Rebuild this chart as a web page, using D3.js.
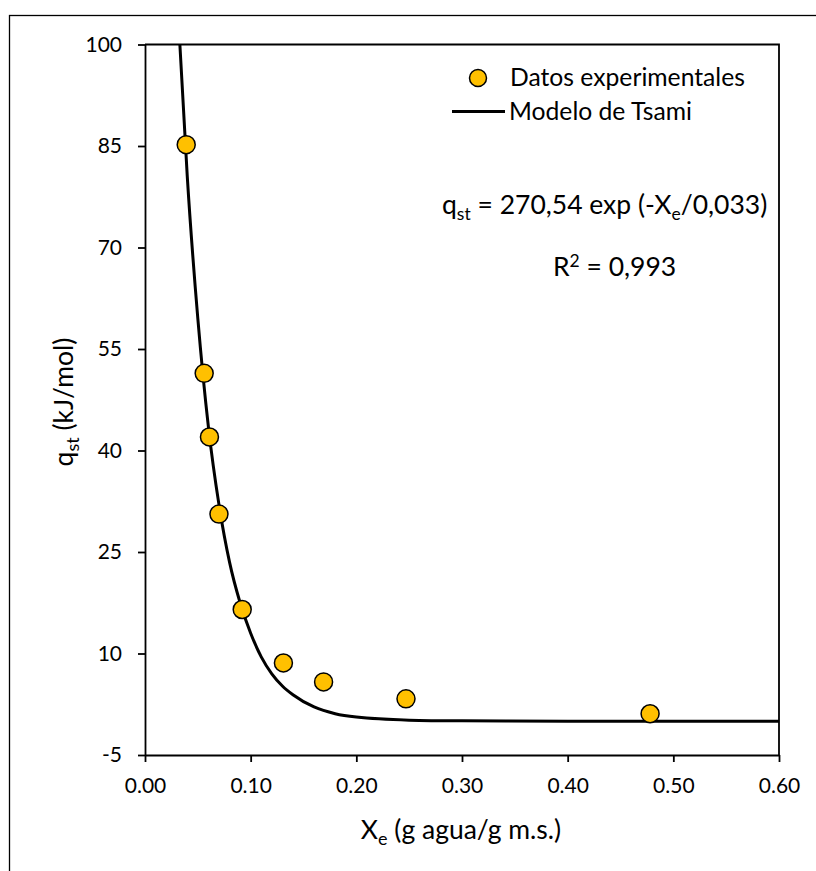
<!DOCTYPE html>
<html>
<head>
<meta charset="utf-8">
<script src="https://cdn.jsdelivr.net/npm/d3@7"></script>
<style>
  body { margin: 0; background: #fff; }
  text { font-family: Lato, "Open Sans", sans-serif; fill: #000; }
</style>
</head>
<body>
<div id="chart"></div>
<script>
// experimental points
let xeData = [0.039, 0.056, 0.061, 0.070, 0.092, 0.131, 0.169, 0.247, 0.478]
let qstData = [85.2, 51.4, 42.0, 30.6, 16.5, 8.6, 5.8, 3.3, 1.1]

// Tsami model curve
let modelX = [0.033, 0.04, 0.05, 0.06, 0.07, 0.08, 0.09, 0.10, 0.11, 0.12, 0.13, 0.14, 0.16, 0.18, 0.20, 0.25, 0.30, 0.40, 0.50, 0.60]
let modelY = [100, 80.5, 59.5, 43.5, 32.0, 23.5, 17.5, 13.0, 9.5, 7.0, 5.2, 3.9, 2.1, 1.1, 0.6, 0.15, 0.05, 0, 0, 0]

let xTicks = [0, 0.1, 0.2, 0.3, 0.4, 0.5, 0.6]
let yTicks = [-5, 10, 25, 40, 55, 70, 85, 100]

let W = 816, H = 871
let margin = {top: 44.5, right: 37, bottom: 116, left: 145}
let width = W - margin.left - margin.right,
    height = H - margin.top - margin.bottom

let svg = d3.select("#chart").append("svg")
    .attr("width", W)
    .attr("height", H)

// outer chart frame (cropped on right/bottom)
svg.append("rect")
    .attr("x", 9.5).attr("y", 15.5)
    .attr("width", 830).attr("height", 880)
    .attr("fill", "none").attr("stroke", "#000").attr("stroke-width", 1.3)

let g = svg.append("g")
    .attr("transform", "translate(" + margin.left + "," + margin.top + ")")

let x = d3.scaleLinear().domain([0, 0.6]).range([0, width])
let y = d3.scaleLinear().domain([-5, 100]).range([height, 0])

// plot box top/right
g.append("path")
    .attr("d", "M0,0H" + width + "V" + height)
    .attr("fill", "none").attr("stroke", "#000").attr("stroke-width", 1.8)

// axes
let xAxis = g.append("g")
    .attr("transform", "translate(0," + height + ")")
    .call(d3.axisBottom(x).tickValues(xTicks).tickFormat(d3.format(".2f")).tickSize(7).tickSizeOuter(0))
let yAxis = g.append("g")
    .call(d3.axisLeft(y).tickValues(yTicks).tickFormat(function (d) { return String(d) }).tickSize(7).tickSizeOuter(0))

g.selectAll(".domain, .tick line").attr("stroke", "#000").attr("stroke-width", 1.8)
xAxis.selectAll("text").attr("font-size", 21).attr("y", 23).attr("font-family", "Lato")
yAxis.selectAll("text").attr("font-size", 21).attr("x", -23).attr("font-family", "Lato")

// model line
let line = d3.line()
    .x(function (d, i) { return x(modelX[i]) })
    .y(function (d) { return y(d) })
    .curve(d3.curveMonotoneX)

g.append("path")
    .datum(modelY)
    .attr("d", line)
    .attr("fill", "none")
    .attr("stroke", "#000")
    .attr("stroke-width", 3)

// data points
g.selectAll("circle.pt")
    .data(qstData)
    .enter()
    .append("circle")
    .attr("class", "pt")
    .attr("cx", function (d, i) { return x(xeData[i]) })
    .attr("cy", function (d) { return y(d) })
    .attr("r", 9)
    .attr("fill", "#FFC000")
    .attr("stroke", "#000")
    .attr("stroke-width", 1.5)

// legend
svg.append("circle")
    .attr("cx", 478).attr("cy", 78).attr("r", 8.5)
    .attr("fill", "#FFC000").attr("stroke", "#000").attr("stroke-width", 1.5)
svg.append("text").attr("x", 510).attr("y", 86).attr("font-size", 24.7)
    .text("Datos experimentales")
svg.append("line")
    .attr("x1", 452).attr("x2", 505).attr("y1", 111.5).attr("y2", 111.5)
    .attr("stroke", "#000").attr("stroke-width", 3)
svg.append("text").attr("x", 509).attr("y", 120).attr("font-size", 24.7)
    .text("Modelo de Tsami")

// equation
let eq = svg.append("text").attr("x", 442).attr("y", 214).attr("font-size", 26.5)
eq.append("tspan").text("q")
eq.append("tspan").attr("font-size", 17.5).attr("dy", 6).text("st")
eq.append("tspan").attr("dy", -6).text(" = 270,54 exp (-X")
eq.append("tspan").attr("font-size", 17.5).attr("dy", 6).text("e")
eq.append("tspan").attr("dy", -6).text("/0,033)")

let r2 = svg.append("text").attr("x", 553).attr("y", 276).attr("font-size", 26.5)
r2.append("tspan").text("R")
r2.append("tspan").attr("font-size", 17.5).attr("dy", -9).text("2")
r2.append("tspan").attr("dy", 9).text(" = 0,993")

// axis titles
let xt = svg.append("text").attr("x", 461).attr("y", 839)
    .attr("text-anchor", "middle").attr("font-size", 26.5)
xt.append("tspan").text("X")
xt.append("tspan").attr("font-size", 18).attr("dy", 6).text("e")
xt.append("tspan").attr("dy", -6).text(" (g agua/g m.s.)")

let yt = svg.append("text")
    .attr("transform", "translate(73,402) rotate(-90)")
    .attr("text-anchor", "middle").attr("font-size", 26.5)
yt.append("tspan").text("q")
yt.append("tspan").attr("font-size", 18).attr("dy", 6).text("st")
yt.append("tspan").attr("dy", -6).text(" (kJ/mol)")
</script>
</body>
</html>
